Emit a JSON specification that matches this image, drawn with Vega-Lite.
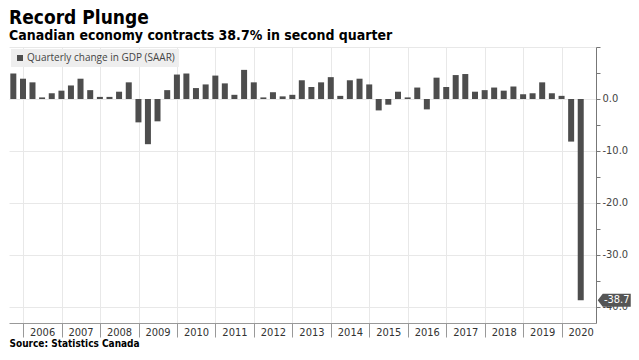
{
  "$schema": "https://vega.github.io/schema/vega-lite/v6.json",
  "width": 639,
  "height": 360,
  "autosize": {"type": "fit", "contains": "padding"},
  "padding": {"left": 9, "right": 9, "top": 8, "bottom": 11},
  "background": "white",
  "title": {
    "text": "Record Plunge",
    "subtitle": "Canadian economy contracts 38.7% in second quarter",
    "anchor": "start",
    "frame": "group",
    "font": "DejaVu Sans Condensed, DejaVu Sans",
    "fontSize": 19,
    "fontWeight": "bold",
    "color": "#000000",
    "subtitleFont": "DejaVu Sans Condensed, DejaVu Sans",
    "subtitleFontSize": 14,
    "subtitleFontWeight": "bold",
    "subtitleColor": "#000000",
    "subtitlePadding": 1,
    "offset": 4
  },
  "config": {"view": {"stroke": null}},
  "data": {
    "values": [
      {"date": "2005-09-30", "value": 4.9},
      {"date": "2005-12-31", "value": 3.9},
      {"date": "2006-03-31", "value": 3.2},
      {"date": "2006-06-30", "value": 0.3},
      {"date": "2006-09-30", "value": 1.1},
      {"date": "2006-12-31", "value": 1.6},
      {"date": "2007-03-31", "value": 2.6},
      {"date": "2007-06-30", "value": 3.9},
      {"date": "2007-09-30", "value": 1.7},
      {"date": "2007-12-31", "value": 0.4},
      {"date": "2008-03-31", "value": 0.4},
      {"date": "2008-06-30", "value": 1.4},
      {"date": "2008-09-30", "value": 3.2},
      {"date": "2008-12-31", "value": -4.5},
      {"date": "2009-03-31", "value": -8.7},
      {"date": "2009-06-30", "value": -4.3},
      {"date": "2009-09-30", "value": 1.7},
      {"date": "2009-12-31", "value": 4.7},
      {"date": "2010-03-31", "value": 4.9},
      {"date": "2010-06-30", "value": 2.1},
      {"date": "2010-09-30", "value": 2.8},
      {"date": "2010-12-31", "value": 4.5},
      {"date": "2011-03-31", "value": 3.0},
      {"date": "2011-06-30", "value": 0.8},
      {"date": "2011-09-30", "value": 5.6},
      {"date": "2011-12-31", "value": 3.2},
      {"date": "2012-03-31", "value": 0.3},
      {"date": "2012-06-30", "value": 1.3},
      {"date": "2012-09-30", "value": 0.5},
      {"date": "2012-12-31", "value": 0.8},
      {"date": "2013-03-31", "value": 3.6},
      {"date": "2013-06-30", "value": 2.3},
      {"date": "2013-09-30", "value": 3.2},
      {"date": "2013-12-31", "value": 4.2},
      {"date": "2014-03-31", "value": 0.6},
      {"date": "2014-06-30", "value": 3.6},
      {"date": "2014-09-30", "value": 3.9},
      {"date": "2014-12-31", "value": 2.8},
      {"date": "2015-03-31", "value": -2.2},
      {"date": "2015-06-30", "value": -1.1},
      {"date": "2015-09-30", "value": 1.4},
      {"date": "2015-12-31", "value": 0.3},
      {"date": "2016-03-31", "value": 2.2},
      {"date": "2016-06-30", "value": -2.0},
      {"date": "2016-09-30", "value": 4.1},
      {"date": "2016-12-31", "value": 2.3},
      {"date": "2017-03-31", "value": 4.6},
      {"date": "2017-06-30", "value": 4.8},
      {"date": "2017-09-30", "value": 1.4},
      {"date": "2017-12-31", "value": 1.7},
      {"date": "2018-03-31", "value": 2.2},
      {"date": "2018-06-30", "value": 1.6},
      {"date": "2018-09-30", "value": 2.4},
      {"date": "2018-12-31", "value": 0.9},
      {"date": "2019-03-31", "value": 1.1},
      {"date": "2019-06-30", "value": 3.2},
      {"date": "2019-09-30", "value": 1.1},
      {"date": "2019-12-31", "value": 0.6},
      {"date": "2020-03-31", "value": -8.2},
      {"date": "2020-06-30", "value": -38.7}
    ]
  },
  "encoding": {
    "x": {
      "field": "date",
      "type": "temporal",
      "scale": {
        "type": "utc",
        "nice": false,
        "padding": 0,
        "domain": [
          {"year": 2005, "month": 8, "date": 20, "utc": true},
          {"year": 2020, "month": 11, "date": 22, "utc": true}
        ]
      },
      "axis": {
        "orient": "bottom",
        "tickCount": {"interval": "year", "step": 1},
        "format": "%Y",
        "labelOffset": 19,
        "labelAlign": "center",
        "labelBaseline": "top",
        "labelPadding": -11,
        "labelFlush": false,
        "labelOverlap": false,
        "labelFont": "DejaVu Sans Condensed, DejaVu Sans",
        "labelFontSize": 11,
        "labelColor": "#333333",
        "tickSize": 14,
        "tickColor": "#999999",
        "domainColor": "#999999",
        "grid": true,
        "gridColor": "#e8e8e8",
        "title": "Source: Statistics Canada",
        "titleAnchor": "start",
        "titleAlign": "left",
        "titleBaseline": "top",
        "titleFont": "DejaVu Sans Condensed, DejaVu Sans",
        "titleFontSize": 10,
        "titleFontWeight": "bold",
        "titleColor": "#000000",
        "titlePadding": 1
      }
    },
    "y": {
      "field": "value",
      "type": "quantitative",
      "scale": {"domain": [-43.1, 10], "nice": false, "zero": false},
      "axis": {
        "orient": "right",
        "values": [-40, -35, -30, -25, -20, -15, -10, -5, 0, 5, 10],
        "labelExpr": "datum.value % 10 === 0 && datum.value < 10 ? (datum.value < 0 ? '-' : '') + format(abs(datum.value), '.1f') : ''",
        "grid": true,
        "gridColor": "#e8e8e8",
        "gridOpacity": {"condition": {"test": "datum.value % 10 !== 0", "value": 0}, "value": 1},
        "domainColor": "#777777",
        "tickColor": "#777777",
        "tickSize": 4,
        "labelPadding": 2,
        "labelFont": "DejaVu Sans Condensed, DejaVu Sans",
        "labelFontSize": 11,
        "labelColor": "#444444",
        "title": null
      }
    }
  },
  "layer": [
    {
      "mark": {"type": "bar", "width": 6},
      "encoding": {
        "color": {
          "datum": "Quarterly change in GDP (SAAR)",
          "type": "nominal",
          "scale": {"range": ["#4d4d4d"]},
          "legend": {
            "title": null,
            "orient": "top-left",
            "offset": 2,
            "fillColor": "#eeeeee",
            "padding": 4,
            "symbolType": "square",
            "symbolSize": 36,
            "symbolStrokeWidth": 0,
            "labelFont": "Open Sans",
            "labelFontSize": 10,
            "labelColor": "#444444",
            "labelOffset": 2
          }
        }
      }
    },
    {
      "transform": [{"filter": "datum.value < -30"}],
      "mark": {
        "type": "point",
        "shape": "M0.34,0L0.44,-0.13L1,-0.13L1,0.13L0.44,0.13Z",
        "size": 10000,
        "filled": true,
        "color": "#555555",
        "opacity": 1,
        "strokeWidth": 0
      }
    },
    {
      "transform": [
        {"filter": "datum.value < -30"},
        {"calculate": "'-' + format(abs(datum.value), '.1f')", "as": "tag"}
      ],
      "mark": {
        "type": "text",
        "dx": 36,
        "align": "center",
        "baseline": "middle",
        "color": "#ffffff",
        "font": "DejaVu Sans Condensed, DejaVu Sans",
        "fontSize": 11
      },
      "encoding": {"text": {"field": "tag", "type": "nominal"}}
    }
  ]
}
